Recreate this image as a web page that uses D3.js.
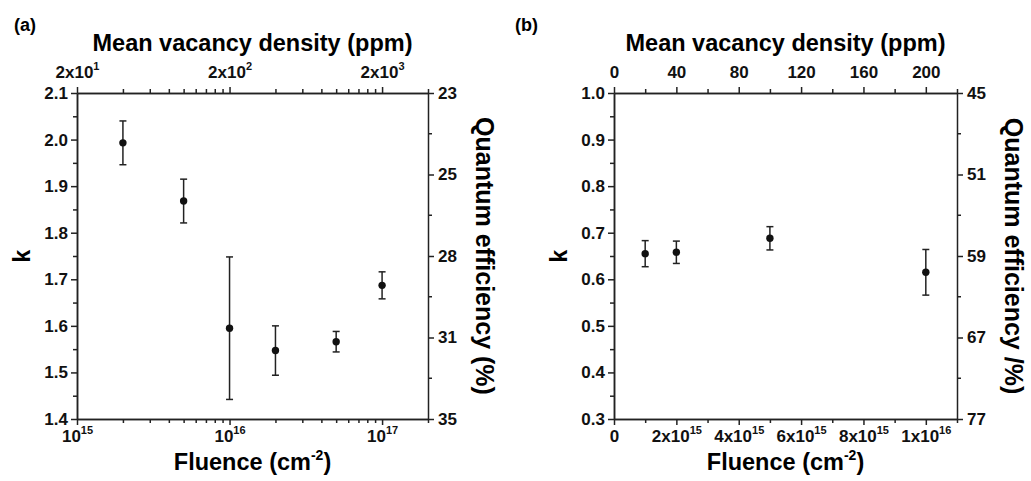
<!DOCTYPE html>
<html>
<head>
<meta charset="utf-8">
<script src="https://cdn.jsdelivr.net/npm/d3@7"></script>
<style>
  body { margin: 0; background: #fff; }
  svg { display: block; font-family: "Liberation Sans", Arial, sans-serif; font-weight: bold; }
  .axis path, .axis line { stroke: #222; stroke-width: 1.5; }
</style>
</head>
<body>
<svg id="chart" width="1031" height="481"></svg>
<script>
// panel (a) data
const fluenceA = [2e15, 5e15, 1e16, 2e16, 5e16, 1e17];
const kA = [1.993, 1.868, 1.595, 1.547, 1.566, 1.687];
const errA = [0.047, 0.047, 0.153, 0.053, 0.022, 0.029];
const qeLabelsA = ['23', '25', '28', '31', '35'];

// panel (b) data
const fluenceB = [1e15, 2e15, 5e15, 1e16];
const kB = [0.655, 0.658, 0.688, 0.615];
const errB = [0.028, 0.024, 0.025, 0.049];
const qeLabelsB = ['45', '51', '59', '67', '77'];

const ppmPerFluence = 2e-14;

const svg = d3.select('#chart');
const plotTop = 93, plotBottom = 419;

function supLabel(sel, base, exp) {
  sel.text(null);
  sel.append('tspan').text(base);
  if (exp !== null) {
    sel.append('tspan').attr('font-size', 11).attr('dy', -8).text(exp);
  }
}

function drawAxis(g, axis) {
  g.attr('class', 'axis').call(axis);
  g.selectAll('text')
    .style('font-family', '"Liberation Sans", Arial, sans-serif')
    .style('font-weight', 'bold')
    .style('font-size', '17px')
    .attr('fill', '#111');
  return g;
}

function panel(opts) {
  const g = svg.append('g');
  const x = opts.x, xTop = opts.xTop;
  const y = d3.scaleLinear().domain(opts.kDomain).range([plotBottom, plotTop]);

  // minor ticks
  drawAxis(g.append('g').attr('transform', 'translate(0,' + plotBottom + ')'),
    d3.axisBottom(x).tickValues(opts.xMinor).tickSize(4).tickSizeOuter(0).tickFormat(''));
  drawAxis(g.append('g').attr('transform', 'translate(0,' + plotTop + ')'),
    d3.axisTop(xTop).tickValues(opts.topMinor).tickSize(4).tickSizeOuter(0).tickFormat(''));
  const kMinor = d3.range(opts.kDomain[0] + 0.05, opts.kDomain[1], 0.1);
  drawAxis(g.append('g').attr('transform', 'translate(' + opts.left + ',0)'),
    d3.axisLeft(y).tickValues(kMinor).tickSize(4).tickSizeOuter(0).tickFormat(''));

  // major bottom
  const bx = drawAxis(g.append('g').attr('transform', 'translate(0,' + plotBottom + ')'),
    d3.axisBottom(x).tickValues(opts.xMajor).tickSize(6).tickSizeOuter(0).tickPadding(5));
  bx.selectAll('.tick text').each(function (d, i) {
    const l = opts.xLabels[i];
    supLabel(d3.select(this), l[0], l[1]);
  });
  // major top
  const tx = drawAxis(g.append('g').attr('transform', 'translate(0,' + plotTop + ')'),
    d3.axisTop(xTop).tickValues(opts.topMajor).tickSize(6).tickSizeOuter(0).tickPadding(9));
  tx.selectAll('.tick text').each(function (d, i) {
    const l = opts.topLabels[i];
    supLabel(d3.select(this), l[0], l[1]);
  });
  // left
  drawAxis(g.append('g').attr('transform', 'translate(' + opts.left + ',0)'),
    d3.axisLeft(y).tickValues(d3.range(opts.kDomain[0], opts.kDomain[1] + 0.001, 0.1))
      .tickSize(6).tickSizeOuter(0).tickPadding(3).tickFormat(d3.format('.1f')));
  // right (quantum efficiency)
  const qe = d3.scalePoint().domain(opts.qeLabels).range([plotTop, plotBottom]);
  const qeMid = d3.scaleLinear().domain([0, opts.qeLabels.length - 1]).range([plotTop, plotBottom]);
  const rMinor = g.append('g').attr('class', 'axis').attr('transform', 'translate(' + opts.right + ',0)');
  rMinor.selectAll('line').data(d3.range(opts.qeLabels.length - 1)).enter().append('line')
    .attr('x2', 4).attr('y1', d => qeMid(d + 0.5)).attr('y2', d => qeMid(d + 0.5));
  drawAxis(g.append('g').attr('transform', 'translate(' + opts.right + ',0)'),
    d3.axisRight(qe).tickSize(6).tickSizeOuter(0).tickPadding(4));
  g.selectAll('.axis path.domain').attr('fill', 'none');

  // error bars
  const cap = 3.5;
  const eb = g.append('g').attr('stroke', '#222').attr('stroke-width', 1.5);
  opts.fluence.forEach((f, i) => {
    const cx = x(f), y1 = y(opts.k[i] + opts.err[i]), y2 = y(opts.k[i] - opts.err[i]);
    eb.append('line').attr('x1', cx).attr('x2', cx).attr('y1', y1).attr('y2', y2);
    eb.append('line').attr('x1', cx - cap).attr('x2', cx + cap).attr('y1', y1).attr('y2', y1);
    eb.append('line').attr('x1', cx - cap).attr('x2', cx + cap).attr('y1', y2).attr('y2', y2);
  });
  g.append('g').selectAll('circle').data(opts.fluence).enter().append('circle')
    .attr('cx', d => x(d)).attr('cy', (d, i) => y(opts.k[i])).attr('r', 3.7).attr('fill', '#111');

  const cxm = (opts.left + opts.right) / 2;
  // titles
  g.append('text').attr('x', cxm).attr('y', 51).attr('text-anchor', 'middle')
    .attr('font-size', 23.5).text('Mean vacancy density (ppm)');
  const ft = g.append('text').attr('x', cxm).attr('y', 470).attr('text-anchor', 'middle').attr('font-size', 23.5);
  ft.append('tspan').text('Fluence (cm');
  ft.append('tspan').attr('font-size', 14).attr('dy', -10).text('-2');
  ft.append('tspan').attr('dy', 10).text(')');
  g.append('text').attr('transform', 'translate(' + (opts.left - 55) + ',' + ((plotTop + plotBottom) / 2) + ') rotate(-90)')
    .attr('text-anchor', 'middle').attr('dy', '0.35em').attr('font-size', 23).text('k');
  g.append('text').attr('transform', 'translate(' + (opts.right + 57) + ',' + ((plotTop + plotBottom) / 2) + ') rotate(90)')
    .attr('text-anchor', 'middle').attr('dy', '0.35em').attr('font-size', 25).text(opts.qeTitle);
  g.append('text').attr('x', opts.tagX).attr('y', 31).attr('font-size', 18).text(opts.tag);
}

// panel (a): log fluence
const leftA = 77, rightA = 428;
const xA = d3.scaleLog().domain([1e15, 2e17]).range([leftA, rightA]);
const xTopA = d3.scaleLog().domain([1e15 * ppmPerFluence, 2e17 * ppmPerFluence]).range([leftA, rightA]);
const minorFl = [];
[1e15, 1e16, 1e17].forEach(dec => d3.range(2, 10).forEach(m => { if (m * dec <= 2e17) minorFl.push(m * dec); }));
panel({
  left: leftA, right: rightA, x: xA, xTop: xTopA,
  kDomain: [1.4, 2.1],
  xMajor: [1e15, 1e16, 1e17], xMinor: minorFl,
  xLabels: [['10', '15'], ['10', '16'], ['10', '17']],
  topMajor: [20, 200, 2000], topMinor: minorFl.map(f => f * ppmPerFluence),
  topLabels: [['2x10', '1'], ['2x10', '2'], ['2x10', '3']],
  qeLabels: qeLabelsA, qeTitle: 'Quantum efficiency (%)',
  fluence: fluenceA, k: kA, err: errA,
  tag: '(a)', tagX: 14
});

// panel (b): linear fluence
const leftB = 614, rightB = 957;
const xB = d3.scaleLinear().domain([0, 1.1e16]).range([leftB, rightB]);
const xTopB = d3.scaleLinear().domain([0, 1.1e16 * ppmPerFluence]).range([leftB, rightB]);
panel({
  left: leftB, right: rightB, x: xB, xTop: xTopB,
  kDomain: [0.3, 1.0],
  xMajor: [0, 2e15, 4e15, 6e15, 8e15, 1e16], xMinor: [1e15, 3e15, 5e15, 7e15, 9e15, 1.1e16],
  xLabels: [['0', null], ['2x10', '15'], ['4x10', '15'], ['6x10', '15'], ['8x10', '15'], ['1x10', '16']],
  topMajor: [0, 40, 80, 120, 160, 200], topMinor: [20, 60, 100, 140, 180, 220],
  topLabels: [['0', null], ['40', null], ['80', null], ['120', null], ['160', null], ['200', null]],
  qeLabels: qeLabelsB, qeTitle: 'Quantum efficiency /%)',
  fluence: fluenceB, k: kB, err: errB,
  tag: '(b)', tagX: 515
});
</script>
</body>
</html>
